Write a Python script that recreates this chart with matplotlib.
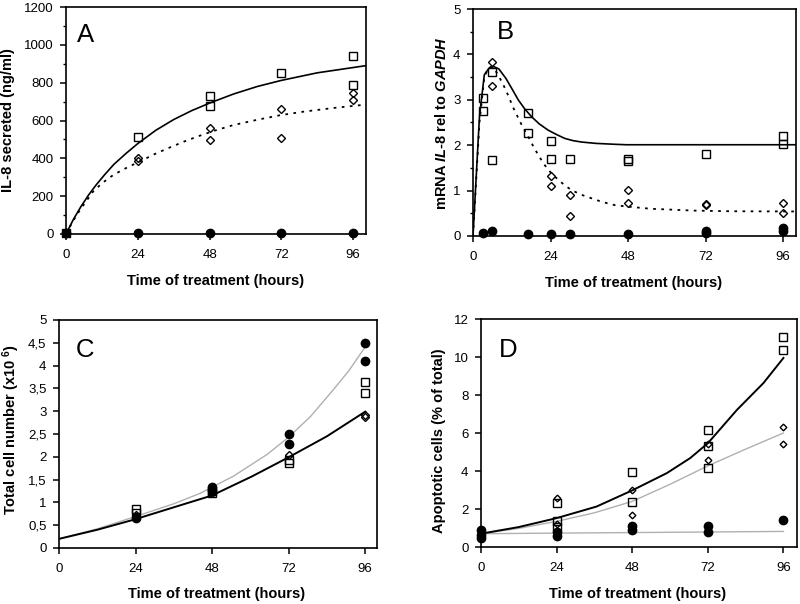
import matplotlib
matplotlib.use("Agg")
import matplotlib.pyplot as plt
from matplotlib.ticker import MultipleLocator, FixedLocator

plt.rcParams['font.family'] = ['Liberation Sans', 'DejaVu Sans']
plt.rcParams['mathtext.fontset'] = 'custom'
plt.rcParams['mathtext.it'] = 'Liberation Sans:italic:bold'
plt.rcParams['mathtext.rm'] = 'Liberation Sans:bold'
plt.rcParams['mathtext.bf'] = 'Liberation Sans:bold'

# ---- panel A : IL-8 secreted ----
a_sq_t = [0, 24, 48, 48, 72, 96, 96]
a_sq_y = [5, 511, 729, 677, 853, 941, 788]
a_di_t = [0, 24, 24, 48, 48, 72, 72, 96, 96]
a_di_y = [5, 402, 384, 562, 499, 661, 506, 747, 708]
a_ci_t = [0, 24, 48, 72, 96]
a_ci_y = [3, 3, 3, 3, 3]
# fitted curves
a_fit1_t = [0, 2.5, 5, 7.5, 10, 13, 16, 20, 24, 30, 36, 42, 48, 56, 64, 72, 84, 96, 100.3]
a_fit1_y = [0, 78, 145, 205, 258, 315, 368, 425, 478, 548, 605, 652, 692, 740, 780, 812, 852, 880, 890]
a_fit2_t = [0, 2.4, 5, 9.1, 12, 15.8, 20, 24.2, 30, 34.8, 40, 44.8, 50, 56, 64, 71.6, 80, 89.4, 100.2]
a_fit2_y = [0, 70, 135, 225, 268, 312, 348, 380, 425, 458, 492, 520, 548, 576, 604, 628, 648, 666, 684]

# ---- panel B : mRNA IL-8 ----
b_sq_t = [3, 3, 6, 6, 17, 17, 24, 24, 30, 48, 48, 72, 96, 96]
b_sq_y = [3.05, 2.75, 3.62, 1.67, 2.72, 2.26, 2.10, 1.69, 1.69, 1.70, 1.65, 1.81, 2.20, 2.03]
b_di_t = [6, 6, 24, 24, 30, 30, 48, 48, 72, 72, 96, 96]
b_di_y = [3.84, 3.30, 1.33, 1.11, 0.90, 0.43, 1.01, 0.72, 0.70, 0.68, 0.73, 0.50]
b_ci_t = [3, 6, 17, 24, 30, 48, 72, 72, 96, 96]
b_ci_y = [0.07, 0.12, 0.05, 0.05, 0.05, 0.05, 0.10, 0.07, 0.18, 0.12]
b_fit1_t = [0, 2, 3.5, 5, 6.5, 8, 10.2, 12, 14, 16, 18.1, 20.5, 23.3, 26, 28.4, 31, 33.6, 38, 43.9, 47.5, 100]
b_fit1_y = [0, 2.63, 3.55, 3.70, 3.73, 3.68, 3.47, 3.25, 3.0, 2.8, 2.63, 2.47, 2.33, 2.23, 2.15, 2.10, 2.07, 2.04, 2.02, 2.01, 2.01]
b_fit2_t = [0, 2, 3.5, 4.6, 5.6, 6.6, 7.5, 9.2, 11, 12.3, 14, 15.4, 17.1, 19, 21.2, 23, 25.3, 28, 30.5,
            33.5, 36.7, 40, 43.9, 47.5, 55, 68.1, 80, 100]
b_fit2_y = [0, 2.5, 3.5, 3.68, 3.73, 3.68, 3.58, 3.36, 3.08, 2.85, 2.6, 2.40, 2.19, 1.93, 1.67, 1.48, 1.31, 1.14, 1.01,
            0.91, 0.83, 0.75, 0.68, 0.65, 0.60, 0.56, 0.545, 0.54]

# ---- panel C : total cell number ----
c_sq_t = [24, 24, 48, 48, 72, 72, 96, 96]
c_sq_y = [0.85, 0.77, 1.24, 1.20, 1.93, 1.86, 3.63, 3.41]
c_di_t = [24, 48, 72, 96, 96]
c_di_y = [0.72, 1.20, 2.04, 2.91, 2.88]
c_ci_t = [24, 48, 48, 72, 72, 96, 96]
c_ci_y = [0.66, 1.34, 1.28, 2.50, 2.28, 4.49, 4.10]
c_grey_t = [0, 12, 24, 36, 44.3, 54.8, 65.2, 72, 78.8, 86, 91, 96]
c_grey_y = [0.2, 0.42, 0.69, 0.97, 1.2, 1.58, 2.05, 2.43, 2.88, 3.47, 3.90, 4.41]
c_black_t = [0, 12, 23.4, 35.4, 47.9, 60.5, 72, 84, 96]
c_black_y = [0.2, 0.40, 0.62, 0.88, 1.15, 1.57, 1.99, 2.45, 2.99]
c_yticks = [0, 0.5, 1, 1.5, 2, 2.5, 3, 3.5, 4, 4.5, 5]
c_ylabels = ['0', '0,5', '1', '1,5', '2', '2,5', '3', '3,5', '4', '4,5', '5']

# ---- panel D : apoptotic cells ----
d_sq_t = [24, 24, 24, 48, 48, 72, 72, 72, 96, 96]
d_sq_y = [2.31, 1.35, 1.04, 3.97, 2.35, 6.16, 5.29, 4.18, 11.07, 10.37]
d_di_t = [24, 24, 48, 48, 72, 72, 96, 96]
d_di_y = [2.57, 1.20, 2.98, 1.66, 5.44, 4.59, 6.34, 5.41]
d_ci_t = [0, 0, 0, 24, 24, 48, 48, 72, 72, 96]
d_ci_y = [0.91, 0.65, 0.47, 0.77, 0.56, 1.08, 0.90, 1.10, 0.80, 1.43]
d_black_t = [0, 12, 24, 36.7, 48, 59, 66.4, 72, 81.2, 89.6, 96]
d_black_y = [0.70, 1.05, 1.52, 2.13, 2.98, 3.89, 4.68, 5.46, 7.21, 8.62, 9.95]
d_grey_t = [0, 12, 24, 36, 48, 60, 72, 84, 96]
d_grey_y = [0.70, 0.98, 1.35, 1.80, 2.40, 3.30, 4.27, 5.15, 6.0]
d_flat_t = [0, 96]
d_flat_y = [0.70, 0.82]

hours = [0, 24, 48, 72, 96]

fig = plt.figure(figsize=(8, 6.04), dpi=100)
W, H = 800.0, 604.0

def make_ax(l, t, r, b):
    return fig.add_axes([l / W, (H - b) / H, (r - l) / W, (b - t) / H])

def style(ax, xmax, ymax):
    ax.set_xlim(0, xmax)
    ax.set_ylim(0, ymax)
    ax.set_xticks(hours)
    for s in ax.spines.values():
        s.set_linewidth(1.2)
    ax.tick_params(direction='out', length=4, width=1.1, labelsize=9.5, pad=7)
    ax.tick_params(axis='y', pad=5)
    ax.tick_params(which='minor', direction='out', length=2.5, width=1.0)

sq = dict(marker='s', ms=6, mfc='none', mec='black', mew=1.0, ls='none', clip_on=False, zorder=5)
di = dict(marker='D', ms=4.4, mfc='none', mec='black', mew=1.0, ls='none', clip_on=False, zorder=5)
ci = dict(marker='o', ms=6, mfc='black', mec='black', ls='none', clip_on=False, zorder=6)
lab = dict(fontsize=10.5, fontweight='bold')

# A
ax = make_ax(66, 7, 366, 234)
ax.plot(a_fit1_t, a_fit1_y, color='black', lw=1.2)
ax.plot(a_fit2_t, a_fit2_y, color='black', lw=1.3, ls=(0, (1.5, 3)))
ax.plot(a_sq_t, a_sq_y, **sq)
ax.plot(a_di_t, a_di_y, **di)
ax.plot(a_ci_t, a_ci_y, **ci)
style(ax, 100.3, 1200)
ax.yaxis.set_major_locator(MultipleLocator(200))
ax.yaxis.set_minor_locator(MultipleLocator(100))
ax.text(0.037, 0.846, 'A', transform=ax.transAxes, fontsize=18.5, va='baseline')
fig.text(8.5 / W, 1 - 120 / H, 'IL-8 secreted (ng/ml)', rotation=90, ha='center', va='center', **lab)
fig.text(216 / W, 1 - 281 / H, 'Time of treatment (hours)', ha='center', va='center', **lab)

# B
ax = make_ax(473, 9, 796, 236)
ax.plot(b_fit1_t, b_fit1_y, color='black', lw=1.2)
ax.plot(b_fit2_t, b_fit2_y, color='black', lw=1.3, ls=(0, (1.5, 3)))
ax.plot(b_sq_t, b_sq_y, **sq)
ax.plot(b_di_t, b_di_y, **di)
ax.plot(b_ci_t, b_ci_y, **ci)
style(ax, 100, 5)
ax.yaxis.set_major_locator(MultipleLocator(1))
ax.yaxis.set_minor_locator(MultipleLocator(0.5))
ax.text(0.073, 0.866, 'B', transform=ax.transAxes, fontsize=18.5, va='baseline')
fig.text(441.5 / W, 1 - 123 / H, r'mRNA $\mathit{IL}$-$\mathit{8}$ rel to $\mathit{GAPDH}$',
         rotation=90, ha='center', va='center', **lab)
fig.text(634 / W, 1 - 282.5 / H, 'Time of treatment (hours)', ha='center', va='center', **lab)

# C
ax = make_ax(59, 320, 377, 548)
ax.plot(c_grey_t, c_grey_y, color='#b0b0b0', lw=1.0)
ax.plot(c_black_t, c_black_y, color='black', lw=1.4)
ax.plot(c_sq_t, c_sq_y, **sq)
ax.plot(c_di_t, c_di_y, **di)
ax.plot(c_ci_t, c_ci_y, **ci)
style(ax, 99.7, 5)
ax.yaxis.set_major_locator(FixedLocator(c_yticks))
ax.set_yticklabels(c_ylabels)
ax.text(0.053, 0.839, 'C', transform=ax.transAxes, fontsize=18.5, va='baseline')
fig.text(11.5 / W, 1 - 430 / H, r'Total cell number (x10 $^{6}$)', rotation=90,
         ha='center', va='center', **lab)
fig.text(217 / W, 1 - 594 / H, 'Time of treatment (hours)', ha='center', va='center', **lab)

# D
ax = make_ax(481, 319, 797, 547)
ax.plot(d_flat_t, d_flat_y, color='#b0b0b0', lw=1.0)
ax.plot(d_grey_t, d_grey_y, color='#b0b0b0', lw=1.0)
ax.plot(d_black_t, d_black_y, color='black', lw=1.4)
ax.plot(d_sq_t, d_sq_y, **sq)
ax.plot(d_di_t, d_di_y, **dict(di, ms=3.4))
ax.plot(d_ci_t, d_ci_y, **ci)
style(ax, 100.3, 12)
ax.yaxis.set_major_locator(MultipleLocator(2))
ax.text(0.055, 0.835, 'D', transform=ax.transAxes, fontsize=18.5, va='baseline')
fig.text(439 / W, 1 - 441 / H, 'Apoptotic cells (% of total)', rotation=90,
         ha='center', va='center', **lab)
fig.text(638 / W, 1 - 594 / H, 'Time of treatment (hours)', ha='center', va='center', **lab)

fig.savefig('out.png', dpi=100)
